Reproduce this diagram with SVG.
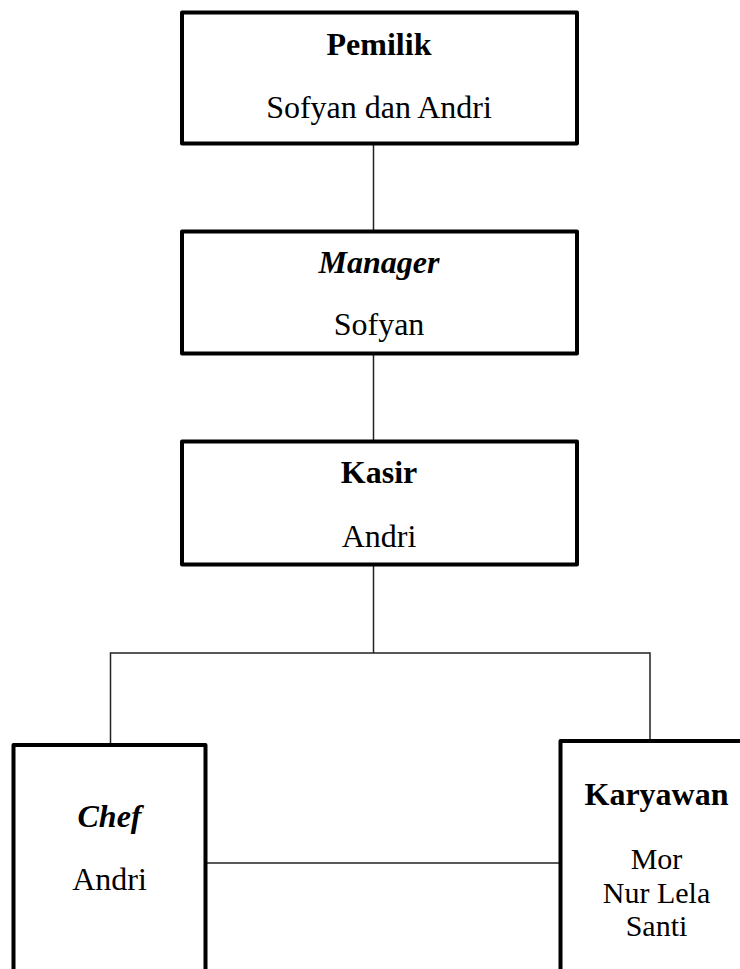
<svg xmlns="http://www.w3.org/2000/svg" width="740" height="969" viewBox="0 0 740 969">
<style>
.box{fill:#fff;stroke:#000;stroke-width:4;stroke-linejoin:round}
.ln{fill:none;stroke:#222;stroke-width:1.5}
text{font-family:"Liberation Serif","Times New Roman",serif;font-size:32px;fill:#000;text-anchor:middle}
.b{font-weight:bold}
.bi{font-weight:bold;font-style:italic}
.s{font-size:30px}
</style>
<rect width="740" height="969" fill="#fff"/>
<g id="connectors">
<line class="ln" x1="373.5" y1="145" x2="373.5" y2="230"/>
<line class="ln" x1="373.5" y1="355" x2="373.5" y2="440"/>
<line class="ln" x1="373.5" y1="566" x2="373.5" y2="653"/>
<polyline class="ln" points="110.5,743 110.5,653 650,653 650,739"/>
<line class="ln" x1="207" y1="863" x2="559" y2="863"/>
</g>
<g id="pemilik">
<rect class="box" x="182" y="12.5" width="395" height="131"/>
<text class="b" x="379" y="55">Pemilik</text>
<text x="379" y="118">Sofyan dan Andri</text>
</g>
<g id="manager">
<rect class="box" x="182" y="231.5" width="395" height="122"/>
<text class="bi" x="379" y="273">Manager</text>
<text x="379" y="335">Sofyan</text>
</g>
<g id="kasir">
<rect class="box" x="182" y="441.5" width="395" height="123"/>
<text class="b" x="379" y="483">Kasir</text>
<text x="379" y="547">Andri</text>
</g>
<g id="chef">
<rect class="box" x="13.5" y="745" width="192" height="260"/>
<text class="bi" x="109.5" y="827">Chef</text>
<text x="109.5" y="890">Andri</text>
</g>
<g id="karyawan">
<rect class="box" x="560.5" y="741" width="192" height="260"/>
<text class="b" x="656.5" y="805">Karyawan</text>
<text class="s" x="656.5" y="869">Mor</text>
<text class="s" x="656.5" y="902.5">Nur Lela</text>
<text class="s" x="656.5" y="936">Santi</text>
</g>
</svg>
